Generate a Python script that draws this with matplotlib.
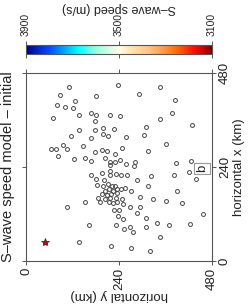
import numpy as np
import matplotlib
matplotlib.use('Agg')
import matplotlib.pyplot as plt
from matplotlib.colors import LinearSegmentedColormap, Normalize
from matplotlib.cm import ScalarMappable

# station positions (km): horizontal y along the page, horizontal x up the page
sta_y = [110, 237, 345, 87, 181, 291, 127, 384, 81, 101, 120, 138, 169, 180, 218, 243,
         377, 69, 177, 345, 428, 137, 177, 199, 226, 310, 198, 211, 116, 169, 258, 304,
         64, 77, 95, 107, 146, 83, 179, 196, 209, 248, 229, 362, 315, 124, 151, 169,
         203, 216, 229, 218, 243, 259, 280, 278, 387, 427,
         169, 196, 218, 218, 232, 246, 261, 323, 381, 420, 439, 181, 200, 286, 183, 198,
         212, 222, 230, 215, 225, 235, 244, 255, 316, 203, 196, 209, 220, 236, 272, 389,
         187, 203, 218, 232, 248, 295, 329, 191, 215, 225, 236, 250, 153, 362, 403, 106,
         268, 295, 226, 239, 287, 457, 237, 250, 309, 163, 232, 253, 268, 277, 310, 337,
         369, 424, 347, 137, 220, 270, 320]
sta_x = [444, 450, 444, 424, 422, 427, 409, 411, 398, 392, 390, 374, 378, 373, 372, 369,
         378, 365, 357, 362, 346, 334, 335, 339, 337, 341, 325, 320, 318, 315, 317, 321,
         287, 286, 295, 286, 294, 268, 279, 283, 282, 289, 272, 299, 281, 260, 262, 256,
         262, 252, 252, 245, 259, 248, 252, 242, 249, 255,
         220, 225, 230, 220, 221, 220, 220, 218, 220, 228, 209, 209, 208, 206, 194, 191,
         196, 192, 191, 184, 180, 183, 185, 187, 191, 179, 172, 168, 172, 174, 179, 179,
         162, 158, 162, 160, 158, 163, 158, 151, 150, 148, 150, 145, 151, 153, 148, 137,
         137, 138, 131, 131, 123, 119, 115, 107, 111, 93, 92, 82, 87, 74, 87, 98,
         91, 94, 62, 48, 39, 34, 25]
src_y = [50]
src_x = [49]

ticks = [0, 240, 480]
cb_ticks = [3900, 3500, 3100]
vmin, vmax = 3100, 3900

# colour scale, written from 3900 (left) to 3100 (right)
cols = [(0.0, '#000080'), (0.12, '#0048ff'), (0.2, '#00a0ff'), (0.28, '#00ffff'),
        (0.38, '#98ffe0'), (0.5, '#ffffe6'), (0.56, '#ffe6b8'), (0.66, '#ffc384'),
        (0.74, '#ff9a45'), (0.82, '#ff6400'), (0.9, '#ff1000'), (0.95, '#d80000'),
        (1.0, '#6e0000')]
cmap = LinearSegmentedColormap.from_list('swave', cols).reversed()

plt.rcParams['font.family'] = ['Liberation Sans', 'DejaVu Sans']
plt.rcParams['font.size'] = 9.5
txtc = '#222222'
linec = '#555555'

fig = plt.figure(figsize=(2.49, 3.05), dpi=100)
ax = fig.add_axes([26/249., 1-261/305., 186/249., 188/305.])
cax = fig.add_axes([26/249., 1-54/305., 186/249., 9/305.])

ax.plot(sta_y, sta_x, 'o', ms=2.8, mfc='none', mec='#444444', mew=0.7, ls='none')
ax.plot(src_y, src_x, '*', ms=6, mfc='#cc0000', mec='#333333', mew=0.6, ls='none')

ax.set_xlim(0, 480)
ax.set_ylim(0, 480)
ax.set_xticks(ticks)
ax.set_yticks(ticks)
for sp in ax.spines.values():
    sp.set_color(linec)
    sp.set_linewidth(0.8)
ax.tick_params(direction='out', length=3, width=0.7, color=linec, labelcolor=txtc,
               top=True, bottom=True, left=True, right=True,
               labelleft=False, labelright=True, labelbottom=True, labeltop=False, pad=2)
for lab in ax.get_xticklabels():
    lab.set_rotation(90)
for lab in ax.get_yticklabels():
    lab.set_rotation(90)
    lab.set_va('center')

ax.set_xlabel('horizontal y (km)', rotation=180, color=txtc, va='center')
ax.xaxis.set_label_coords(0.5, -0.18)
ax.yaxis.set_label_position('right')
ax.set_ylabel('horizontal x (km)', rotation=90, color=txtc, va='center')
ax.yaxis.set_label_coords(1.145, 0.5)

ax.text(454, 237, 'b', rotation=90, ha='center', va='center', color=txtc,
        bbox=dict(boxstyle='square,pad=0.15', fc='white', ec='#999999', lw=0.8))

fig.text(8/249., 1-167/305., 'S\u2013wave speed model \u2013 initial', rotation=90,
         ha='center', va='center', color=txtc, fontsize=10.5)

# colour bar
sm = ScalarMappable(norm=Normalize(vmin, vmax), cmap=cmap)
cb = fig.colorbar(sm, cax=cax, orientation='horizontal')
cb.outline.set_edgecolor(linec)
cb.outline.set_linewidth(0.8)
cax.invert_xaxis()
cb.set_ticks(cb_ticks)
cb.set_ticklabels([str(t) for t in cb_ticks])
cax.tick_params(direction='out', length=3, width=0.7, color=linec, labelcolor=txtc,
                labelsize=7.5, top=True, bottom=True, labeltop=True, labelbottom=False,
                pad=3.5)
for lab in cax.get_xticklabels():
    lab.set_rotation(90)
cax.set_xlabel('S\u2013wave speed (m/s)', rotation=180, color=txtc, va='center',
               fontsize=9)
cax.xaxis.set_label_coords(0.5, 5.1)

fig.savefig('out.png', dpi=100)
